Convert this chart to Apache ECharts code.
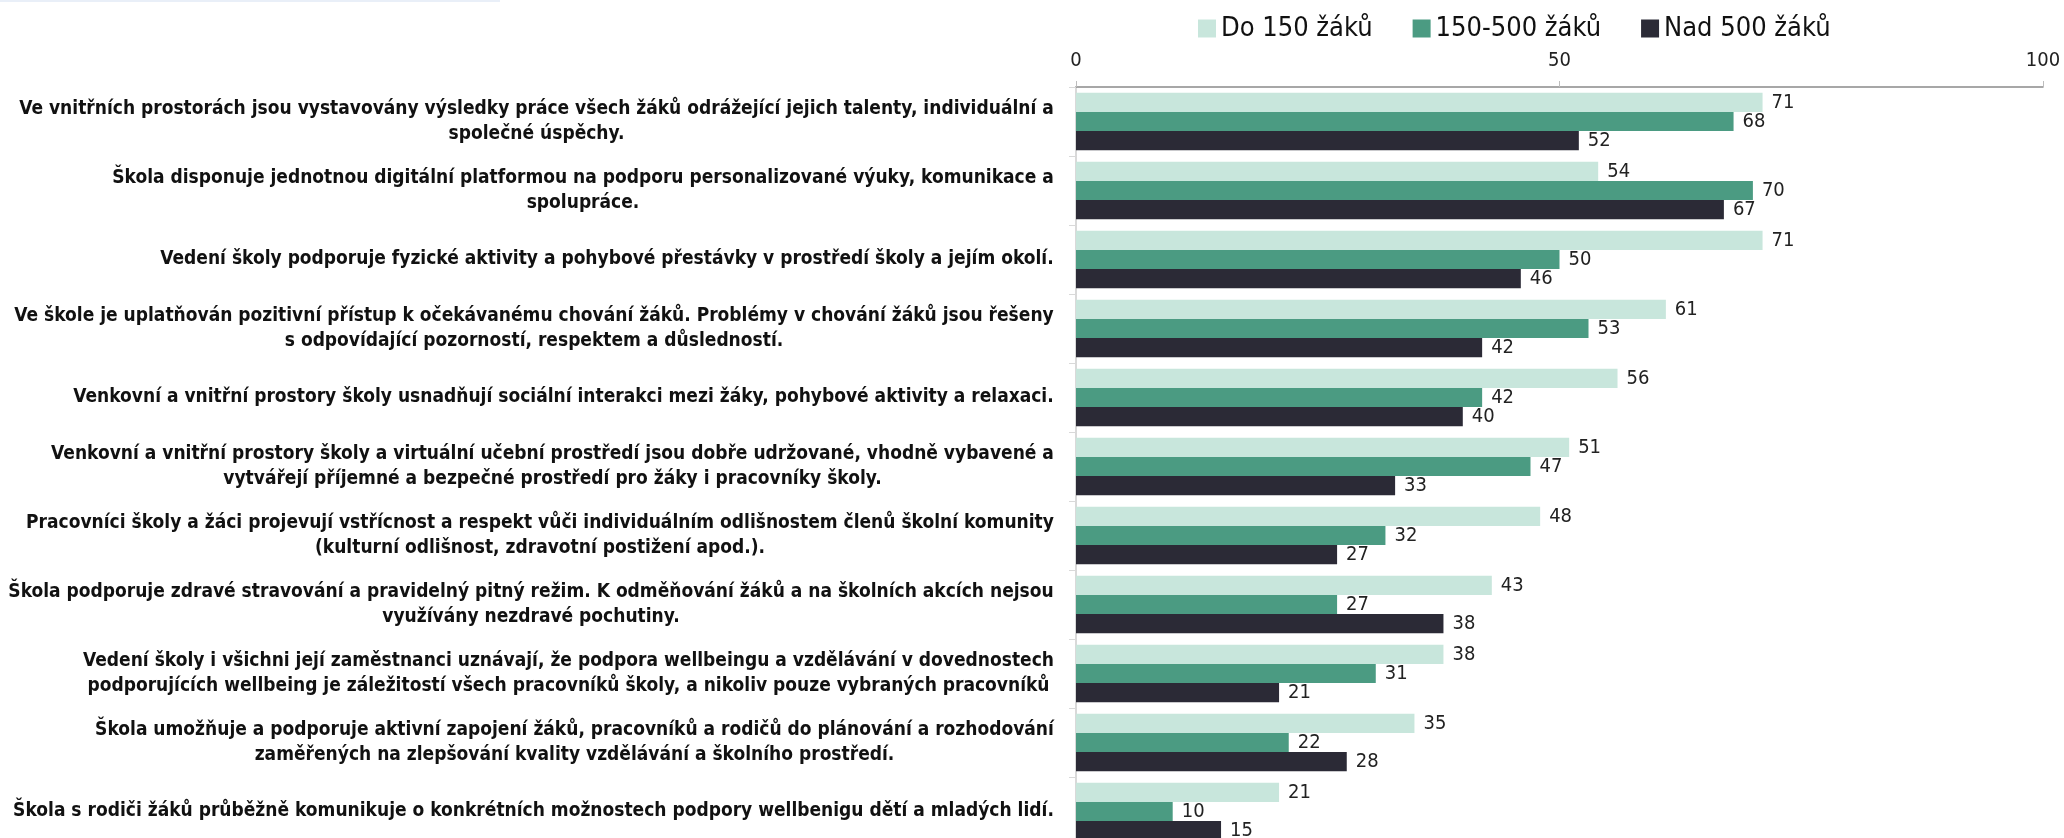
<!DOCTYPE html>
<html><head><meta charset="utf-8">
<script src="https://cdn.jsdelivr.net/npm/echarts@6/dist/echarts.min.js"></script>
<style>html,body{margin:0;padding:0;background:#fff;}#c{width:2064px;height:838px;}</style>
</head><body><div id="c"></div>
<script>
const categories = [
  'Ve vnitřních prostorách jsou vystavovány výsledky práce všech žáků odrážející jejich talenty, individuální a\nspolečné úspěchy.',
  'Škola disponuje jednotnou digitální platformou na podporu personalizované výuky, komunikace a\nspolupráce.',
  'Vedení školy podporuje fyzické aktivity a pohybové přestávky v prostředí školy a jejím okolí.',
  'Ve škole je uplatňován pozitivní přístup k očekávanému chování žáků. Problémy v chování žáků jsou řešeny\ns odpovídající pozorností, respektem a důsledností.',
  'Venkovní a vnitřní prostory školy usnadňují sociální interakci mezi žáky, pohybové aktivity a relaxaci.',
  'Venkovní a vnitřní prostory školy a virtuální učební prostředí jsou dobře udržované, vhodně vybavené a\nvytvářejí příjemné a bezpečné prostředí pro žáky i pracovníky školy.',
  'Pracovníci školy a žáci projevují vstřícnost a respekt vůči individuálním odlišnostem členů školní komunity\n(kulturní odlišnost, zdravotní postižení apod.).',
  'Škola podporuje zdravé stravování a pravidelný pitný režim. K odměňování žáků a na školních akcích nejsou\nvyužívány nezdravé pochutiny.',
  'Vedení školy i všichni její zaměstnanci uznávají, že podpora wellbeingu a vzdělávání v dovednostech\npodporujících wellbeing je záležitostí všech pracovníků školy, a nikoliv pouze vybraných pracovníků',
  'Škola umožňuje a podporuje aktivní zapojení žáků, pracovníků a rodičů do plánování a rozhodování\nzaměřených na zlepšování kvality vzdělávání a školního prostředí.',
  'Škola s rodiči žáků průběžně komunikuje o konkrétních možnostech podpory wellbenigu dětí a mladých lidí.'
];
const seriesNames = ['Do 150 žáků', '150-500 žáků', 'Nad 500 žáků'];
const valuesSmall  = [71, 54, 71, 61, 56, 51, 48, 43, 38, 35, 21];
const valuesMedium = [68, 70, 50, 53, 42, 47, 32, 27, 31, 22, 10];
const valuesLarge  = [52, 67, 46, 42, 40, 33, 27, 38, 21, 28, 15];
const axisMin = 0, axisMax = 100, axisInterval = 50;

const FONT = "'Liberation Sans Narrow', 'DejaVu Sans Condensed', 'Arial Narrow', sans-serif";
const LABEL_SIZE = 19;
const colors = ['#c8e6dc', '#4b9b82', '#2b2a36'];

const cv = document.createElement('canvas').getContext('2d');
cv.font = 'bold ' + LABEL_SIZE + 'px ' + FONT;
const catData = categories.map(function (c) {
  const w = Math.max.apply(null, c.split('\n').map(function (l) { return cv.measureText(l).width; }));
  return { value: c, textStyle: { align: 'center', padding: [0, Math.ceil(w), 0, 0] } };
});

const chart = echarts.init(document.getElementById('c'), null, { renderer: 'canvas' });
const vals = [valuesSmall, valuesMedium, valuesLarge];
chart.setOption({
  animation: false,
  backgroundColor: '#ffffff',
  textStyle: { fontFamily: FONT },
  graphic: [{ type: 'rect', left: 0, top: 0, shape: { width: 500, height: 2 }, style: { fill: '#e9eff8' } }],
  legend: {
    left: 1193, top: 10,
    itemWidth: 18, itemHeight: 18, itemGap: 40,
    icon: 'rect',
    textStyle: { fontSize: 27, color: '#111', fontFamily: FONT },
    data: seriesNames
  },
  grid: { left: 1076, top: 87, width: 967, height: 759, containLabel: false, outerBoundsMode: 'none' },
  xAxis: {
    type: 'value', position: 'top', min: axisMin, max: axisMax, interval: axisInterval,
    axisLine: { show: true, lineStyle: { color: '#8a8a8a', width: 1.5 } },
    axisTick: { show: true, length: 6, lineStyle: { color: '#bdbdbd' } },
    splitLine: { show: false },
    axisLabel: { fontSize: 20, color: '#222', margin: 16, fontFamily: FONT }
  },
  yAxis: {
    type: 'category', inverse: true, data: catData,
    axisLine: { show: true, lineStyle: { color: '#d9d9d9', width: 2 } },
    axisTick: { show: true, length: 7, lineStyle: { color: '#d9d9d9' } },
    axisLabel: {
      fontSize: LABEL_SIZE, fontWeight: 'bold', color: '#111', margin: 22,
      align: 'center', lineHeight: 25, fontFamily: FONT, interval: 0
    }
  },
  series: seriesNames.map(function (n, i) {
    return {
      name: n, type: 'bar', data: vals[i],
      barGap: '0%', barCategoryGap: '17%',
      itemStyle: { color: colors[i] },
      label: { show: true, position: 'right', distance: 9, fontSize: 20, color: '#222', fontFamily: FONT }
    };
  })
});
</script>
</body></html>
